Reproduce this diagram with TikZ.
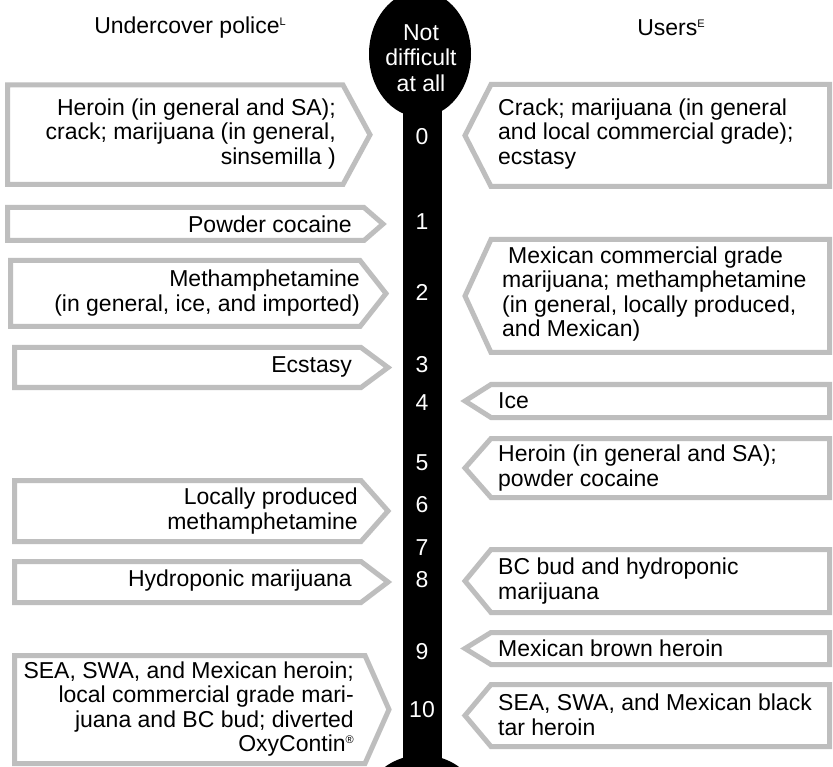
\documentclass[tikz,border=0pt]{standalone}
\usepackage{fontspec}
\setmainfont{Liberation Sans}
\definecolor{boxgray}{RGB}{190,190,190}
\newcommand\supx[1]{\raisebox{8pt}{\fontsize{11}{11}\selectfont #1}}
\newcommand\Lbox[5]{\draw[boxline] (#1,#2) -- (#4,#2) -- (#5,{(#2+#3)/2}) -- (#4,#3) -- (#1,#3) -- cycle;}
\newcommand\Rbox[2]{\draw[boxline] (829.5,#1) -- (491,#1) -- (465,{(#1+#2)/2}) -- (491,#2) -- (829.5,#2) -- cycle;}
\tikzset{
  boxline/.style={draw=boxgray, line width=5pt, fill=white, line join=miter},
  basefont/.style={font=\fontsize{23}{24.5}\selectfont},
  ltxt/.style={basefont, anchor=east, align=right, inner sep=0pt},
  rtxt/.style={basefont, anchor=west, align=left, inner sep=0pt},
  num/.style={basefont, text=white, inner sep=0pt},
  head/.style={basefont, inner sep=0pt}
}
\begin{document}
\begin{tikzpicture}[x=1pt,y=-1pt]
\useasboundingbox (0,0) rectangle (833,767);
\fill[white] (0,0) rectangle (833,767);
% thermometer
\begin{scope}
  \clip (0,0) rectangle (833,767);
  \fill[black] (420,54) ellipse [x radius=51pt, y radius=63pt];
  \fill[black] (403,50) rectangle (442,780);
  \fill[black] (422,815) ellipse [x radius=62pt, y radius=60pt];
\end{scope}
% headers
\node[head] (hl) at (190,28) {Undercover police\supx{L}};
\node[head] (hr) at (671,28) {Users\supx{E}};
\node[num, align=center, font=\fontsize{23}{25.5}\selectfont] (top) at (421,58) {Not\\difficult\\at all};
% scale numbers
\node[num] (n0) at (422,137) {0};
\node[num] (n1) at (422,222) {1};
\node[num] (n2) at (422,292) {2};
\node[num] (n3) at (422,365) {3};
\node[num] (n4) at (422,403) {4};
\node[num] (n5) at (422,463) {5};
\node[num] (n6) at (422,505) {6};
\node[num] (n7) at (422,548) {7};
\node[num] (n8) at (422,580) {8};
\node[num] (n9) at (422,652) {9};
\node[num] (n10) at (422,710) {10};
% left boxes (undercover police)
\Lbox{7.5}{85}{184.5}{343}{370}
\Lbox{7.5}{207.5}{240.5}{364}{383}
\Lbox{10.5}{260.5}{326.5}{360}{386}
\Lbox{14.5}{347.5}{387.5}{361}{388}
\Lbox{14.5}{480.5}{541.5}{361}{388}
\Lbox{14.5}{561.5}{602.5}{361}{388}
\Lbox{14.5}{655.5}{763.5}{365}{389}
\node[ltxt] (l0) at (336,134) {Heroin (in general and SA);\\crack; marijuana (in general,\\sinsemilla )};
\node[ltxt] (l1) at (352,224) {Powder cocaine};
\node[ltxt] (l2) at (360,293) {Methamphetamine\\(in general, ice, and imported)};
\node[ltxt] (l3) at (352,367) {Ecstasy};
\node[ltxt] (l6) at (358,511) {Locally produced\\methamphetamine};
\node[ltxt] (l8) at (352,581) {Hydroponic marijuana};
\node[ltxt] (l10) at (354,709) {SEA, SWA, and Mexican heroin;\\local commercial grade mari-\\juana and BC bud; diverted\\OxyContin\supx{®}};
% right boxes (users)
\Rbox{84.5}{186.5}
\Rbox{239.5}{352.5}
\Rbox{384.5}{417.5}
\Rbox{438.5}{497.5}
\Rbox{549.5}{612.5}
\Rbox{632.5}{664.5}
\Rbox{684.5}{746.5}
\node[rtxt] (r0) at (498,134) {Crack; marijuana (in general\\and local commercial grade);\\ecstasy};
\node[rtxt] (r2) at (502,294) {\hspace*{6pt}Mexican commercial grade\\marijuana; methamphetamine\\(in general, locally produced,\\and Mexican)};
\node[rtxt] (r4) at (498,401) {Ice};
\node[rtxt] (r5) at (498,468) {Heroin (in general and SA);\\powder cocaine};
\node[rtxt] (r8) at (498,581) {BC bud and hydroponic\\marijuana};
\node[rtxt] (r9) at (498,648) {Mexican brown heroin};
\node[rtxt] (r10) at (498,715) {SEA, SWA, and Mexican black\\tar heroin};
\end{tikzpicture}
\end{document}
